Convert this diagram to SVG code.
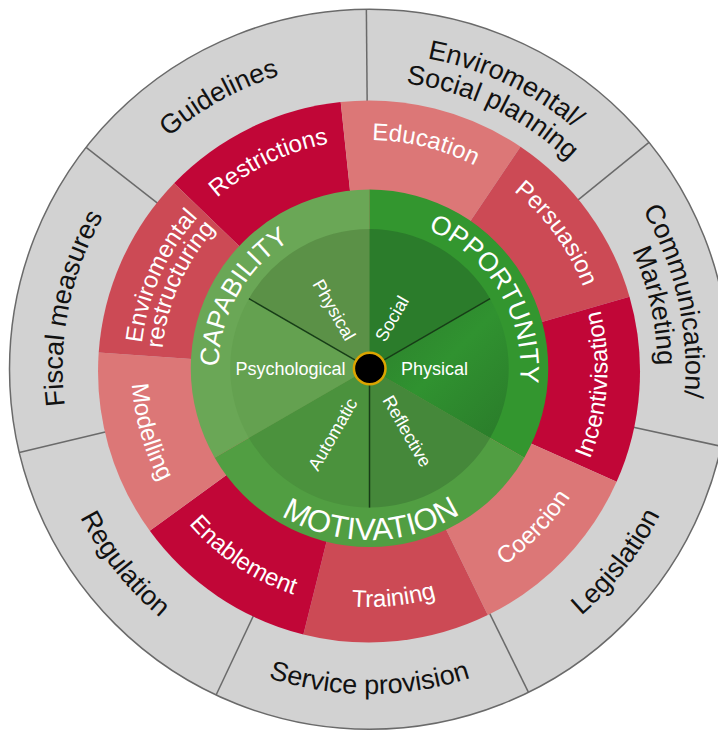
<svg xmlns="http://www.w3.org/2000/svg" xmlns:xlink="http://www.w3.org/1999/xlink" width="718" height="733" viewBox="0 0 718 733">
<style>
  text { font-family: "Liberation Sans", Arial, sans-serif; text-anchor: middle; }
  .outer { font-size: 27px; fill: #111; }
  .red { font-size: 24px; fill: #fff; }
  .grn { font-size: 26.5px; fill: #fff; }
  .mot { font-size: 31px; fill: #fff; }
  .inner { font-size: 18px; fill: #fff; }
  .grey { fill: #d2d2d2; }
  .dred { fill: #c10637; }
  .pink { fill: #dc7777; }
  .mred { fill: #cc4a55; }
  .div { stroke: #6a6a6a; stroke-width: 1.5; fill: none; }
  .spoke { stroke: #173d17; stroke-width: 1.5; }
</style>
<defs>
  <path id="t151" d="M -151 0 A 151 151 0 0 1 151 0"/>
  <path id="t208" d="M -208 0 A 208 208 0 0 1 208 0"/>
  <path id="t229" d="M -229 0 A 229 229 0 0 1 229 0"/>
  <path id="t288" d="M -288 0 A 288 288 0 0 1 288 0"/>
  <path id="t307" d="M -307 0 A 307 307 0 0 1 307 0"/>
  <path id="t316" d="M -316 0 A 316 316 0 0 1 316 0"/>
  <path id="b171" d="M -171 0 A 171 171 0 0 0 171 0"/>
  <path id="b238" d="M -238 0 A 238 238 0 0 0 238 0"/>
  <path id="b325" d="M -325 0 A 325 325 0 0 0 325 0"/>
  <linearGradient id="oppG" x1="0" y1="0" x2="1" y2="1">
    <stop offset="0" stop-color="#2b7c2b"/>
    <stop offset="0.5" stop-color="#309230"/>
    <stop offset="1" stop-color="#2a7b2a"/>
  </linearGradient>
</defs>

<!-- Policy categories (outer grey ring) -->
<g id="guidelines">
  <path class="grey" d="M 369.5 369.3 L 86.1 147.4 A 360 360 0 0 1 366.36 9.31 Z"/>
  <g transform="translate(369.5 369)"><text class="outer" transform="rotate(-29)"><textPath href="#t307" xlink:href="#t307" startOffset="50%">Guidelines</textPath></text></g>
</g>
<g id="environmental-social-planning">
  <path class="grey" d="M 369.5 369.3 L 366.36 9.31 A 360 360 0 0 1 649.0 142.4 Z"/>
  <g transform="translate(369.5 369)">
    <text class="outer" transform="rotate(25.5)"><textPath href="#t316" xlink:href="#t316" startOffset="50%">Enviromental/</textPath></text>
    <text class="outer" transform="rotate(25.5)"><textPath href="#t288" xlink:href="#t288" startOffset="50%">Social planning</textPath></text>
  </g>
</g>
<g id="communication-marketing">
  <path class="grey" d="M 369.5 369.3 L 649.0 142.4 A 360 360 0 0 1 721.1 446.3 Z"/>
  <g transform="translate(369.5 369)">
    <text class="outer" transform="rotate(77.5)"><textPath href="#t316" xlink:href="#t316" startOffset="50%">Communication/</textPath></text>
    <text class="outer" transform="rotate(77.5)"><textPath href="#t288" xlink:href="#t288" startOffset="50%">Marketing</textPath></text>
  </g>
</g>
<g id="legislation">
  <path class="grey" d="M 369.5 369.3 L 721.1 446.3 A 360 360 0 0 1 528.5 692.3 Z"/>
  <g transform="translate(369.5 369)"><text class="outer" transform="rotate(-52)"><textPath href="#b325" xlink:href="#b325" startOffset="50%">Legislation</textPath></text></g>
</g>
<g id="service-provision">
  <path class="grey" d="M 369.5 369.3 L 528.5 692.3 A 360 360 0 0 1 216.1 695.0 Z"/>
  <g transform="translate(369.5 369)"><text class="outer"><textPath href="#b325" xlink:href="#b325" startOffset="50%">Service provision</textPath></text></g>
</g>
<g id="regulation">
  <path class="grey" d="M 369.5 369.3 L 216.1 695.0 A 360 360 0 0 1 19.3 452.5 Z"/>
  <g transform="translate(369.5 369)"><text class="outer" transform="rotate(51.5)"><textPath href="#b325" xlink:href="#b325" startOffset="50%">Regulation</textPath></text></g>
</g>
<g id="fiscal-measures">
  <path class="grey" d="M 369.5 369.3 L 19.3 452.5 A 360 360 0 0 1 86.1 147.4 Z"/>
  <g transform="translate(369.5 369)"><text class="outer" transform="rotate(281.5)"><textPath href="#t307" xlink:href="#t307" startOffset="50%">Fiscal measures</textPath></text></g>
</g>

<!-- Dividers and outline -->
<g id="connectors">
  <circle class="div" cx="369.5" cy="369.3" r="360"/>
  <line class="div" x1="367.21" y1="107.3" x2="366.36" y2="9.31"/>
  <line class="div" x1="572.9" y1="204.2" x2="649.0" y2="142.4"/>
  <line class="div" x1="625.4" y1="425.4" x2="721.1" y2="446.3"/>
  <line class="div" x1="485.2" y1="604.4" x2="528.5" y2="692.3"/>
  <line class="div" x1="257.9" y1="606.3" x2="216.1" y2="695.0"/>
  <line class="div" x1="114.6" y1="429.8" x2="19.3" y2="452.5"/>
  <line class="div" x1="163.2" y1="207.7" x2="86.1" y2="147.4"/>
</g>

<!-- Intervention functions (red ring) -->
<g id="restrictions">
  <path class="dred" d="M 369 371.5 L 174.1 183.2 A 271 271 0 0 1 340.7 102 Z"/>
  <g transform="translate(369.5 369)"><text class="red" transform="rotate(-26)"><textPath href="#t229" xlink:href="#t229" startOffset="50%">Restrictions</textPath></text></g>
</g>
<g id="education">
  <path class="pink" d="M 369 371.5 L 340.7 102 A 271 271 0 0 1 520.5 146.8 Z"/>
  <g transform="translate(369.5 369)"><text class="red" transform="rotate(14)"><textPath href="#t229" xlink:href="#t229" startOffset="50%">Education</textPath></text></g>
</g>
<g id="persuasion">
  <path class="mred" d="M 369 371.5 L 520.5 146.8 A 271 271 0 0 1 629.5 296.8 Z"/>
  <g transform="translate(369.5 369)"><text class="red" transform="rotate(54)"><textPath href="#t229" xlink:href="#t229" startOffset="50%">Persuasion</textPath></text></g>
</g>
<g id="incentivisation">
  <path class="dred" d="M 369 371.5 L 629.5 296.8 A 271 271 0 0 1 616.6 481.7 Z"/>
  <g transform="translate(369.5 369)"><text class="red" transform="rotate(-86)"><textPath href="#b238" xlink:href="#b238" startOffset="50%">Incentivisation</textPath></text></g>
</g>
<g id="coercion">
  <path class="pink" d="M 369 371.5 L 616.6 481.7 A 271 271 0 0 1 487.8 615.1 Z"/>
  <g transform="translate(369.5 369)"><text class="red" transform="rotate(-46)"><textPath href="#b238" xlink:href="#b238" startOffset="50%">Coercion</textPath></text></g>
</g>
<g id="training">
  <path class="mred" d="M 369 371.5 L 487.8 615.1 A 271 271 0 0 1 303.4 634.4 Z"/>
  <g transform="translate(369.5 369)"><text class="red" transform="rotate(-6)"><textPath href="#b238" xlink:href="#b238" startOffset="50%">Training</textPath></text></g>
</g>
<g id="enablement">
  <path class="dred" d="M 369 371.5 L 303.4 634.4 A 271 271 0 0 1 149.8 530.8 Z"/>
  <g transform="translate(369.5 369)"><text class="red" transform="rotate(34)"><textPath href="#b238" xlink:href="#b238" startOffset="50%">Enablement</textPath></text></g>
</g>
<g id="modelling">
  <path class="pink" d="M 369 371.5 L 149.8 530.8 A 271 271 0 0 1 98.7 352.6 Z"/>
  <g transform="translate(369.5 369)"><text class="red" transform="rotate(74)"><textPath href="#b238" xlink:href="#b238" startOffset="50%">Modelling</textPath></text></g>
</g>
<g id="environmental-restructuring">
  <path class="mred" d="M 369 371.5 L 98.7 352.6 A 271 271 0 0 1 174.1 183.2 Z"/>
  <g transform="translate(369.5 369)">
    <text class="red" transform="rotate(294)"><textPath href="#t229" xlink:href="#t229" startOffset="50%">Enviromental</textPath></text>
    <text class="red" transform="rotate(294)"><textPath href="#t208" xlink:href="#t208" startOffset="50%">restructuring</textPath></text>
  </g>
</g>

<!-- Sources of behaviour (green ring) -->
<g id="capability">
  <path fill="#6aa756" d="M 369.5 368.3 L 214.7 457.65 A 178.7 178.7 0 0 1 369.5 189.6 Z"/>
</g>
<g id="opportunity">
  <path fill="#33962f" d="M 369.5 368.3 L 369.5 189.6 A 178.7 178.7 0 0 1 524.3 457.65 Z"/>
</g>
<g id="motivation">
  <path fill="#519e42" d="M 369.5 368.3 L 524.3 457.65 A 178.7 178.7 0 0 1 214.7 457.65 Z"/>
</g>

<!-- Inner sub-components -->
<g id="capability-psychological">
  <path fill="#64a150" d="M 369.5 368.3 L 248.9 437.95 A 139.3 139.3 0 0 1 248.9 298.65 Z"/>
  <text class="inner" x="345.5" y="375" style="text-anchor:end">Psychological</text>
</g>
<g id="capability-physical">
  <path fill="#5b9147" d="M 369.5 368.3 L 248.9 298.65 A 139.3 139.3 0 0 1 369.5 229 Z"/>
  <text class="inner" style="text-anchor:start" transform="translate(312 284) rotate(60)">Physical</text>
</g>
<g id="opportunity-social">
  <path fill="#2b7c2b" d="M 369.5 368.3 L 369.5 229 A 139.3 139.3 0 0 1 490.1 298.65 Z"/>
  <text class="inner" style="text-anchor:start" transform="translate(385 343) rotate(-60)">Social</text>
</g>
<g id="opportunity-physical">
  <path fill="url(#oppG)" d="M 369.5 368.3 L 490.1 298.65 A 139.3 139.3 0 0 1 490.1 437.95 Z"/>
  <text class="inner" x="401" y="375" style="text-anchor:start">Physical</text>
</g>
<g id="motivation-reflective">
  <path fill="#45883a" d="M 369.5 368.3 L 490.1 437.95 A 139.3 139.3 0 0 1 369.5 507.6 Z"/>
  <text class="inner" style="text-anchor:start" transform="translate(382 400) rotate(60)">Reflective</text>
</g>
<g id="motivation-automatic">
  <path fill="#4b923d" d="M 369.5 368.3 L 369.5 507.6 A 139.3 139.3 0 0 1 248.9 437.95 Z"/>
  <text class="inner" style="text-anchor:start" transform="translate(318 472) rotate(-60)">Automatic</text>
</g>

<!-- Ring labels for sources -->
<g id="source-labels" transform="translate(369.5 369)">
  <text class="grn" transform="rotate(299.5)"><textPath href="#t151" xlink:href="#t151" startOffset="50%">CAPABILITY</textPath></text>
  <text class="grn" transform="rotate(59)"><textPath href="#t151" xlink:href="#t151" startOffset="50%">OPPORTUNITY</textPath></text>
  <text class="mot" transform="rotate(-0.5)"><textPath href="#b171" xlink:href="#b171" startOffset="50%">MOTIVATION</textPath></text>
</g>

<g id="spokes">
  <line class="spoke" x1="369.5" y1="368.3" x2="490.1" y2="298.65"/>
  <line class="spoke" x1="369.5" y1="368.3" x2="248.9" y2="298.65"/>
  <line class="spoke" x1="369.5" y1="368.3" x2="369.5" y2="507.6"/>
</g>

<g id="behaviour-centre">
  <circle cx="369.7" cy="368.5" r="15.8" fill="#000" stroke="#dba400" stroke-width="2.5"/>
</g>
</svg>
